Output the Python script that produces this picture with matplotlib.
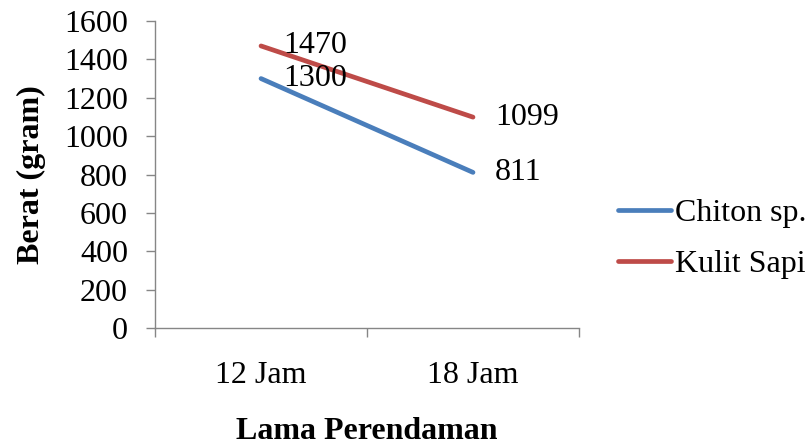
import matplotlib.pyplot as plt
import numpy as np

# data
categories = ["12 Jam", "18 Jam"]
chiton = [1300, 811]
kulit_sapi = [1470, 1099]
y_ticks = [0, 200, 400, 600, 800, 1000, 1200, 1400, 1600]

plt.rcParams['font.family'] = ['Liberation Serif', 'DejaVu Serif']
fs = 23

fig = plt.figure(figsize=(8.1, 4.45), dpi=100)
ax = fig.add_axes([0.1914, 0.2629, 0.5234, 0.6899])

x = np.arange(len(categories))
ax.plot(x, chiton, color="#4A7EBB", lw=3.4, solid_capstyle="round", label="Chiton sp.")
ax.plot(x, kulit_sapi, color="#BE4B48", lw=3.4, solid_capstyle="round", label="Kulit Sapi")

# data labels to the right of each point
for series in (chiton, kulit_sapi):
    for xi, v in zip(x, series):
        ax.annotate(str(v), (xi, v), xytext=(16, 0), textcoords="offset points",
                    va="center", ha="left", fontsize=fs)

ax.set_xlim(-0.5, 1.5)
ax.set_ylim(0, 1600)
ax.set_yticks(y_ticks)
ax.tick_params(axis="y", labelsize=fs, length=6.5, width=1, color="#868686", pad=13)

# category boundaries as ticks, names in between
ax.set_xticks([-0.5, 0.5, 1.5])
ax.set_xticklabels([])
ax.set_xticks(x, minor=True)
ax.set_xticklabels(categories, minor=True)
ax.tick_params(axis="x", which="major", length=6.5, width=1, color="#868686")
ax.tick_params(axis="x", which="minor", length=0, labelsize=fs, pad=24)

for s in ["top", "right"]:
    ax.spines[s].set_visible(False)
for s in ["left", "bottom"]:
    ax.spines[s].set_color("#868686")
    ax.spines[s].set_linewidth(1)

ax.set_ylabel("Berat (gram)", fontsize=fs, fontweight="bold", labelpad=13)
ax.set_xlabel("Lama Perendaman", fontsize=fs, fontweight="bold", labelpad=19)

ax.legend(loc="center left", bbox_to_anchor=(0.763, 0.463), bbox_transform=fig.transFigure,
          frameon=False, borderpad=0, borderaxespad=0,
          fontsize=fs, handlelength=1.66, handletextpad=0.12, labelspacing=0.68)

plt.savefig("out.png", dpi=100)
plt.close()
